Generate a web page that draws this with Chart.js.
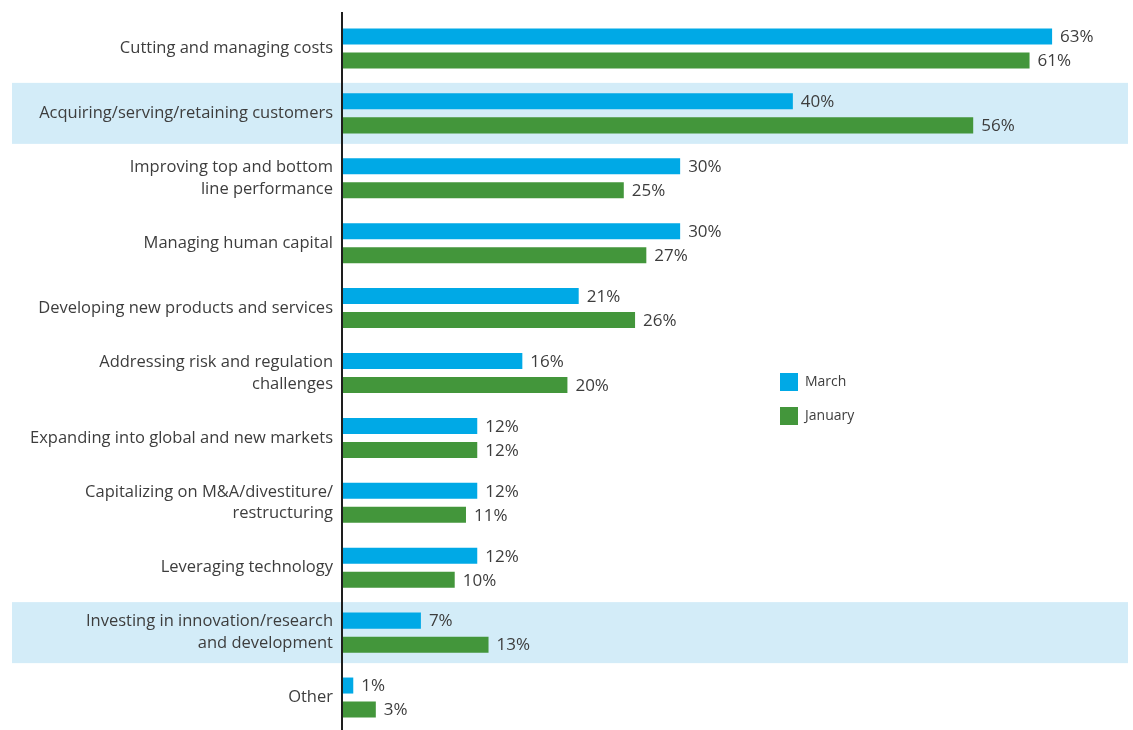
<!DOCTYPE html>
<html>
<head>
<meta charset="utf-8">
<script src="https://cdn.jsdelivr.net/npm/chart.js@4"></script>
<style>
    html, body { margin: 0; padding: 0; background: #ffffff; }
    #wrap { width: 1133px; height: 730px; position: relative; }
</style>
</head>
<body>
<div id="wrap"><canvas id="prioritiesChart"></canvas></div>
<script>
const categories = [
    'Cutting and managing costs',
    'Acquiring/serving/retaining customers',
    ['Improving top and bottom', 'line performance'],
    'Managing human capital',
    'Developing new products and services',
    ['Addressing risk and regulation', 'challenges'],
    'Expanding into global and new markets',
    ['Capitalizing on M&A/divestiture/', 'restructuring'],
    'Leveraging technology',
    ['Investing in innovation/research', 'and development'],
    'Other'
];
const marchValues = [63, 40, 30, 30, 21, 16, 12, 12, 12, 7, 1];
const januaryValues = [61, 56, 25, 27, 26, 20, 12, 11, 10, 13, 3];
const highlightedRows = [1, 9];

const BLUE = '#00a9e6';
const GREEN = '#43963b';
const BAND = '#d3ecf8';
const TEXT = '#3d3d3d';
const FONT = '"Open Sans", "Noto Sans", sans-serif';

// light blue bands behind selected rows, full width
const bandPlugin = {
    id: 'bands',
    beforeDraw(chart) {
        const { ctx } = chart;
        const yScale = chart.scales.y;
        const step = yScale.getPixelForValue(1) - yScale.getPixelForValue(0);
        ctx.save();
        ctx.fillStyle = BAND;
        highlightedRows.forEach((i) => {
            const cy = yScale.getPixelForValue(i);
            ctx.fillRect(12, cy - step * 0.47, 1116, step * 0.94);
        });
        ctx.restore();
    }
};

// percentage text to the right of each bar, axis line and legend
const labelPlugin = {
    id: 'valueLabels',
    afterDatasetsDraw(chart) {
        const { ctx, chartArea } = chart;
        ctx.save();

        ctx.strokeStyle = '#1e1e1e';
        ctx.lineWidth = 2;
        ctx.beginPath();
        ctx.moveTo(chartArea.left, 12);
        ctx.lineTo(chartArea.left, 730);
        ctx.stroke();

        ctx.font = '17px ' + FONT;
        ctx.fillStyle = TEXT;
        ctx.textAlign = 'left';
        ctx.textBaseline = 'middle';
        chart.data.datasets.forEach((ds, di) => {
            chart.getDatasetMeta(di).data.forEach((bar, i) => {
                ctx.fillText(ds.data[i] + '%', bar.x + 8, bar.y + 1);
            });
        });

        // legend
        ctx.font = '14px ' + FONT;
        chart.data.datasets.forEach((ds, di) => {
            const top = 373 + di * 34;
            ctx.fillStyle = ds.backgroundColor;
            ctx.fillRect(780, top, 18, 18);
            ctx.fillStyle = TEXT;
            ctx.fillText(ds.label, 805, top + 9);
        });
        ctx.restore();
    }
};

new Chart(document.getElementById('prioritiesChart'), {
    type: 'bar',
    data: {
        labels: categories,
        datasets: [
            {
                label: 'March',
                data: marchValues,
                backgroundColor: BLUE
            },
            {
                label: 'January',
                data: januaryValues,
                backgroundColor: GREEN
            }
        ]
    },
    options: {
        indexAxis: 'y',
        responsive: true,
        maintainAspectRatio: false,
        animation: false,
        categoryPercentage: 0.74,
        barPercentage: 0.667,
        layout: {
            padding: { top: 16, right: 2, bottom: 0, left: 0 }
        },
        plugins: {
            legend: { display: false },
            tooltip: { enabled: false }
        },
        scales: {
            x: {
                min: 0,
                max: 70,
                display: false
            },
            y: {
                grid: { display: false, drawTicks: false },
                border: { display: false },
                ticks: {
                    color: TEXT,
                    font: { family: FONT, size: 16.5, lineHeight: 1.33 },
                    padding: 9
                },
                afterFit(scale) {
                    scale.width = 342;
                    scale.paddingTop = 0;
                    scale.paddingBottom = 0;
                }
            }
        }
    },
    plugins: [bandPlugin, labelPlugin]
});
</script>
</body>
</html>
